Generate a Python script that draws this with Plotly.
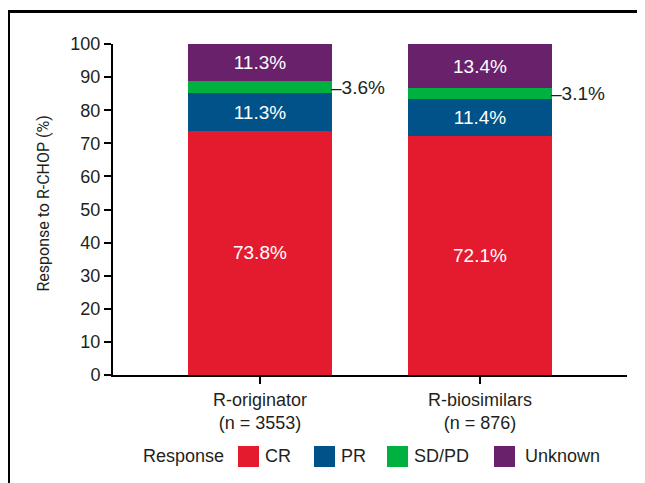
import plotly.graph_objects as go

categories = ["R-originator", "R-biosimilars"]
cat_labels = ["R-originator<br>(n = 3553)", "R-biosimilars<br>(n = 876)"]
responses = ["CR", "PR", "SD/PD", "Unknown"]
cr = [73.8, 72.1]
pr = [11.3, 11.4]
sdpd = [3.6, 3.1]
unknown = [11.3, 13.4]
y_ticks = [0, 10, 20, 30, 40, 50, 60, 70, 80, 90, 100]

colors = {"CR": "#E41B2F", "PR": "#005288", "SD/PD": "#00B140", "Unknown": "#68216A"}
FONT = "Liberation Sans, Arial, Helvetica, sans-serif"
TXT = "#231F20"

W, H = 645, 483
OFF = 8  # page body margin
# screen-pixel plot box: x 113..627, y 44..375
L, T = 113 - OFF, 44 - OFF
PW, PH = 514, 331
R = W - L - PW
B = H - T - PH


def xp(px):
    return (px - OFF - L) / PW


def yp(py):
    return (T + PH - (py - OFF)) / PH


series = {"CR": cr, "PR": pr, "SD/PD": sdpd, "Unknown": unknown}
bar_w = 0.655
fig = go.Figure()
for name in responses:
    vals = series[name]
    show_text = name != "SD/PD"
    fig.add_trace(go.Bar(
        x=list(range(len(categories))), y=vals, name=name,
        marker=dict(color=colors[name], line=dict(width=0)),
        width=bar_w,
        text=[f"{v:.1f}%" for v in vals] if show_text else None,
        textposition="inside" if show_text else "none",
        insidetextanchor="middle",
        textfont=dict(color="white", size=19, family=FONT),
        showlegend=False,
        hoverinfo="y+name",
    ))

# SD/PD outside labels
for i in range(len(categories)):
    ymid = cr[i] + pr[i] + sdpd[i] / 2
    fig.add_annotation(x=i + bar_w / 2, y=ymid, xref="x", yref="y",
                       text=f"\u2013{sdpd[i]:.1f}%", showarrow=False,
                       xanchor="left", yanchor="middle", xshift=-3,
                       font=dict(size=19, family=FONT, color=TXT))

# y-axis title
fig.add_annotation(x=xp(42.5), y=yp(204), xref="paper", yref="paper",
                   text="Response to R-CHOP (%)", textangle=-90, showarrow=False,
                   xanchor="center", yanchor="middle",
                   font=dict(size=16, family="Roboto, Liberation Sans, sans-serif", color=TXT))

# custom legend
fig.add_annotation(x=xp(143), y=yp(456.5), xref="paper", yref="paper", text="Response",
                   showarrow=False, xanchor="left", yanchor="middle",
                   font=dict(size=18, family=FONT, color=TXT), xshift=-2)
swatch_x = [238, 314, 387, 494]
text_x = [265, 341, 414, 525]
for name, sx, tx in zip(responses, swatch_x, text_x):
    fig.add_shape(type="rect", xref="paper", yref="paper",
                  x0=xp(sx), x1=xp(sx + 21), y0=yp(446), y1=yp(467),
                  fillcolor=colors[name], line=dict(width=0))
    fig.add_annotation(x=xp(tx), y=yp(456.5), xref="paper", yref="paper", text=name,
                       showarrow=False, xanchor="left", yanchor="middle",
                       font=dict(size=18, family=FONT, color=TXT), xshift=-2)

# outer frame (left and top edges visible)
fig.add_shape(type="line", xref="paper", yref="paper", x0=xp(8.5), x1=xp(8.5),
              y0=yp(520), y1=yp(11.5), line=dict(color="black", width=3))
fig.add_shape(type="line", xref="paper", yref="paper", x0=xp(7), x1=xp(720),
              y0=yp(11.5), y1=yp(11.5), line=dict(color="black", width=3))

fig.update_layout(
    width=W, height=H, barmode="stack",
    margin=dict(l=L, r=R, t=T, b=B),
    paper_bgcolor="white", plot_bgcolor="white",
    font=dict(family=FONT, size=18, color=TXT),
    xaxis=dict(range=[-0.668, 1.668], tickvals=list(range(len(categories))),
               ticktext=cat_labels, showline=True, linecolor="black", linewidth=2,
               ticks="outside", ticklen=7, tickwidth=1.5, tickcolor="black",
               showgrid=False, zeroline=False, tickfont=dict(size=18)),
    yaxis=dict(range=[0, 100], tickvals=y_ticks, showline=True, linecolor="black",
               linewidth=2, ticks="outside", ticklen=7, tickwidth=1.5, tickcolor="black",
               showgrid=False, zeroline=False, tickfont=dict(size=18)),
)

fig.write_html("out.html")
